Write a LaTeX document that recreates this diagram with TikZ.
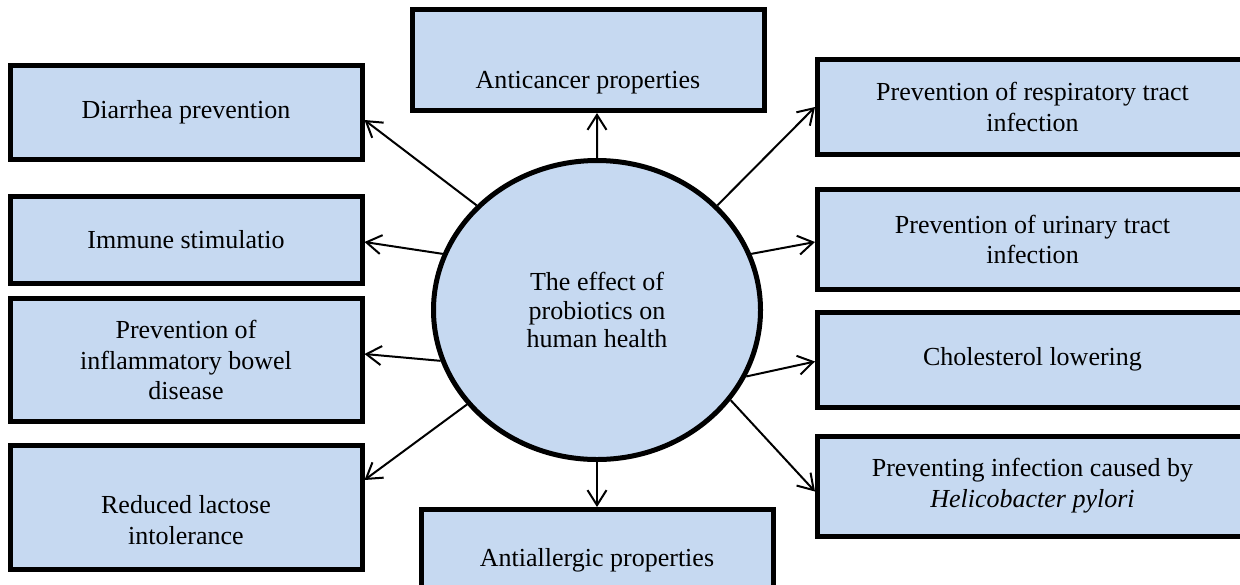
\documentclass[tikz,border=0pt]{standalone}
\usepackage{fontspec}
\setmainfont{Liberation Serif}
\usetikzlibrary{shapes.geometric, arrows.meta}
\definecolor{boxblue}{RGB}{198,217,241}
\tikzstyle{arrow} = [line width=0.04cm,-{Straight Barb[length=0.3cm,width=0.38cm]}]
\tikzstyle{effect} = [rectangle, minimum width=7.04cm, minimum height=1.9cm, align=center, draw=black, line width=0.1cm, fill=boxblue, font=\fontsize{14.8}{17.5}\selectfont]
\tikzstyle{hubcircle} = [ellipse, minimum width=6.54cm, minimum height=5.98cm, inner sep=0pt, align=center, draw=black, line width=0.1cm, fill=boxblue, font=\fontsize{14.8}{16}\selectfont]

\begin{document}
\begin{tikzpicture}[node distance=2.4cm]
\useasboundingbox (0,0) rectangle (24.8,-11.68);

\node (hub) [hubcircle] at (11.94,-6.2) {The effect of\\probiotics on\\human health};

\node (anticancer) [effect, minimum height=2.02cm, text height=1.25cm] at (11.76,-1.2) {Anticancer properties};
\node (allergic) [effect, minimum height=2.02cm] at (11.94,-11.2) {Antiallergic properties};

\node (diarrhea) [effect, minimum height=1.88cm] at (3.72,-2.24) {Diarrhea prevention};
\node (immune) [effect, minimum height=1.74cm, below of=diarrhea, yshift=-0.16cm] {Immune stimulatio};
\node (ibd) [effect, minimum height=2.46cm, below of=immune] {Prevention of\\inflammatory bowel\\disease};
\node (lactose) [effect, minimum height=2.48cm, text height=1.49cm, below of=ibd, yshift=-0.55cm] {Reduced lactose\\intolerance};

\node (respiratory) [effect, minimum width=8.6cm] at (20.65,-2.14) {Prevention of respiratory tract\\infection};
\node (urinary) [effect, minimum width=8.6cm, minimum height=2cm, below of=respiratory, yshift=-0.25cm] {Prevention of urinary tract\\infection};
\node (cholesterol) [effect, minimum width=8.6cm, below of=urinary] {Cholesterol lowering};
\node (helicobacter) [effect, minimum width=8.6cm, minimum height=2cm, below of=cholesterol, yshift=-0.13cm] {Preventing infection caused by\\\textit{Helicobacter pylori}};

\draw [arrow] (hub.139) -- ([yshift=-0.16cm]diarrhea.east);
\draw [arrow] (hub.90) -- ([xshift=0.18cm]anticancer.south);
\draw [arrow] (hub.160) -- ([yshift=-0.04cm]immune.east);
\draw [arrow] (hub.198) -- ([yshift=0.12cm]ibd.east);
\draw [arrow] (hub.216) -- ([yshift=0.55cm]lactose.east);
\draw [arrow] (hub.270) -- (allergic.north);
\draw [arrow] (hub.41) -- (respiratory.west);
\draw [arrow] (hub.20) -- ([yshift=-0.05cm]urinary.west);
\draw [arrow] (hub.336) -- ([yshift=-0.04cm]cholesterol.west);
\draw [arrow] (hub.326) -- ([yshift=-0.11cm]helicobacter.west);
\end{tikzpicture}
\end{document}
